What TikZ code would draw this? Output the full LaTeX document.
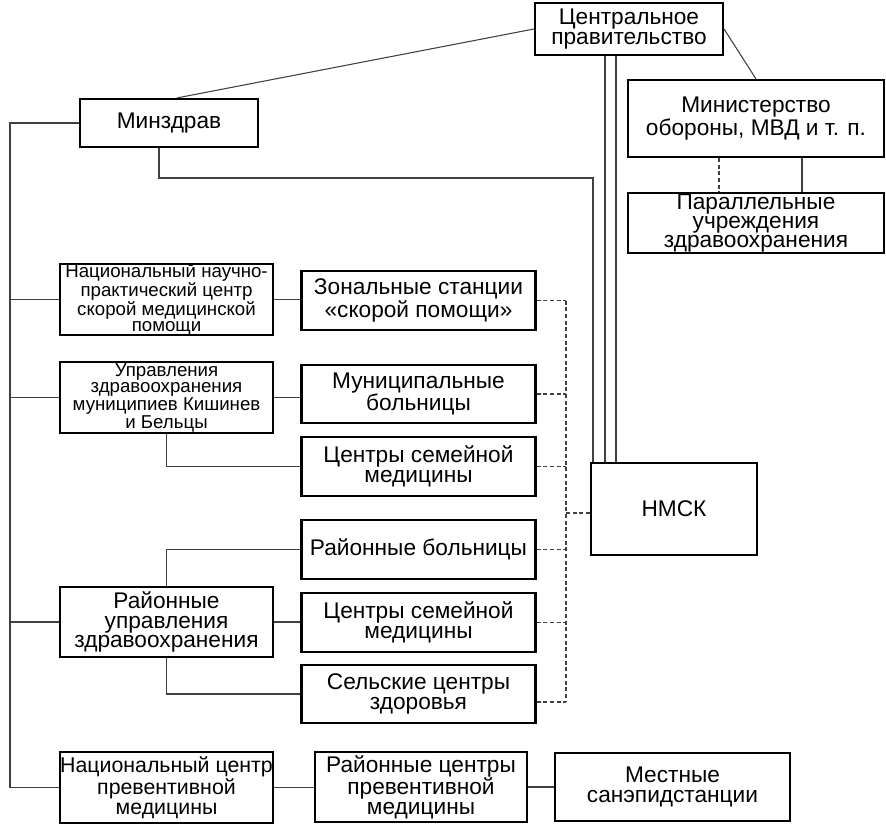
\documentclass[tikz,border=0pt]{standalone}
\usepackage{fontspec}
\setmainfont{Liberation Sans}

\newcommand{\boxfont}{\fontsize{17}{14.5}\selectfont}
\newcommand{\smallboxfont}{\fontsize{14}{12}\selectfont}

\begin{document}
\begin{tikzpicture}[x=0.75pt, y=-0.75pt,
    box/.style={draw, line width=1.6pt, align=center, inner sep=0pt, font=\boxfont},
    leftbox/.style={box, minimum width=159.75pt, minimum height=53pt},
    midbox/.style={box, minimum width=175.5pt, minimum height=44pt},
    link/.style={black!75, line width=0.8pt},
    dlink/.style={link, dash pattern=on 3pt off 2pt}]
    \useasboundingbox (0,0) rectangle (886,824);

    % Верхний уровень
    \node[box, minimum width=141pt, minimum height=39pt] (gov) at (629,29) {Центральное\\правительство};
    \node[box, minimum width=133.5pt, minimum height=36pt] (minzdrav) at (169,123) {Минздрав};
    \node[box, minimum width=192pt, minimum height=57.75pt] (mo) at (756,118.5) {Министерство\\обороны, МВД и т. п.};
    \node[box, minimum width=192pt, minimum height=45pt] (par) at (756,223) {Параллельные\\учреждения\\здравоохранения};

    % Левая колонка
    \node[leftbox, font=\smallboxfont] (nnpc) at (166.5,299.5) {Национальный научно-\\практический центр\\скорой медицинской\\помощи};
    \node[leftbox, font=\smallboxfont] (uzm) at (166.5,397.5) {Управления\\здравоохранения\\муниципиев Кишинев\\и Бельцы};
    \node[leftbox] (ruz) at (166.5,622) {Районные\\управления\\здравоохранения};
    \node[leftbox, font=\fontsize{16}{15}\selectfont] (ncp) at (166.5,787.5) {Национальный центр\\превентивной\\медицины};

    % Средняя колонка
    \node[midbox] (zon) at (418.5,300.5) {Зональные станции\\«скорой помощи»};
    \node[midbox] (mun) at (418.5,394) {Муниципальные\\больницы};
    \node[midbox] (csm1) at (418.5,466.5) {Центры семейной\\медицины};
    \node[midbox] (rb) at (418.5,549.5) {Районные больницы};
    \node[midbox] (csm2) at (418.5,622.5) {Центры семейной\\медицины};
    \node[midbox] (sel) at (418.5,694) {Сельские центры\\здоровья};

    % НМСК и нижний ряд
    \node[box, minimum width=124.5pt, minimum height=69pt] (nmsk) at (674,509) {НМСК};
    \node[box, minimum width=159pt, minimum height=52.5pt] (rcp) at (421,787) {Районные центры\\превентивной\\медицины};
    \node[box, minimum width=176.25pt, minimum height=51pt] (msan) at (672.5,787) {Местные\\санэпидстанции};

    \coordinate (bus) at (10,0);
    \coordinate (dbus) at (566,0);
    \coordinate (mzturn) at (593,178);
    \coordinate (selout) at ([yshift=-6pt]sel.east);
    \coordinate (nmskin) at ([yshift=-3pt]nmsk.west);

    % Связи правительства
    \draw[link] (gov.west) -- ([xshift=6pt]minzdrav.north);
    \draw[link] (gov.east) -- (mo.north);
    \draw[link] ([xshift=34.5pt]mo.south) -- ([xshift=34.5pt]mo.south |- par.north);
    \draw[dlink] ([xshift=-27.75pt]mo.south) -- ([xshift=-27.75pt]mo.south |- par.north);
    \draw[link] ([xshift=-18pt]gov.south) -- ([xshift=-18pt]gov.south |- nmsk.north);
    \draw[link] ([xshift=-9.75pt]gov.south) -- ([xshift=-9.75pt]gov.south |- nmsk.north);
    \draw[link] ([xshift=-7.5pt]minzdrav.south) |- (mzturn) -- (mzturn |- nmsk.north);

    % Шина Минздрава
    \draw[link] (minzdrav.west) -- (minzdrav.west -| bus) -- (bus |- ncp.west) -- (ncp.west);
    \foreach \n in {nnpc, uzm, ruz}
        \draw[link] (bus |- \n.west) -- (\n.west);

    % Подчинённые учреждения
    \draw[link] (nnpc.east) -- (nnpc.east -| zon.west);
    \draw[link] (uzm.east) -- (uzm.east -| mun.west);
    \draw[link] (uzm.south) |- (csm1.west);
    \draw[link] (ruz.north) |- (rb.west);
    \draw[link] (ruz.east) -- (ruz.east -| csm2.west);
    \draw[link] (ruz.south) |- (sel.west);
    \draw[link] (ncp.east) -- (ncp.east -| rcp.west);
    \draw[link] (rcp.east) -- (rcp.east -| msan.west);

    % Пунктир к НМСК
    \foreach \n in {zon, mun, csm1, rb, csm2}
        \draw[dlink] (\n.east) -- (\n.east -| dbus);
    \draw[dlink] (selout) -- (selout -| dbus);
    \draw[dlink] (dbus |- zon.east) -- (dbus |- selout);
    \draw[dlink] (dbus |- nmskin) -- (nmskin);
\end{tikzpicture}
\end{document}
